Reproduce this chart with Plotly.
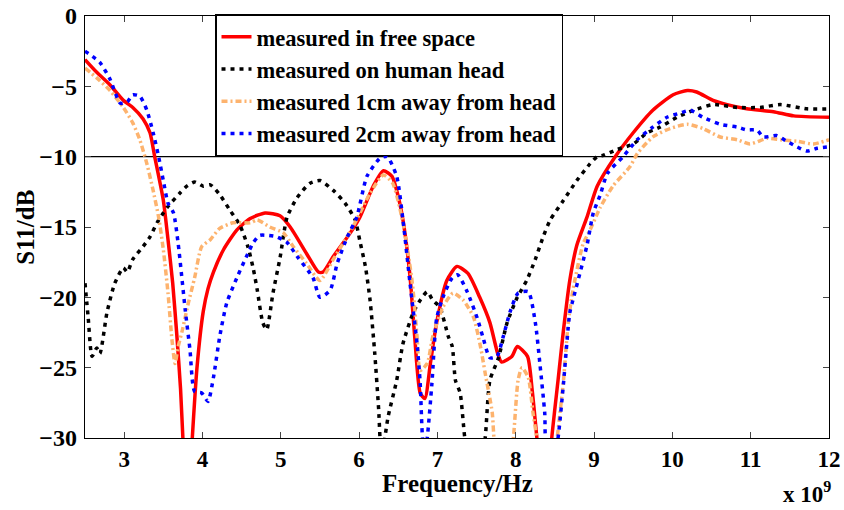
import plotly.graph_objects as go

# Frequencies in GHz, return loss in dB
free_f = [2.50, 2.65, 2.82, 2.99, 3.11, 3.24, 3.33, 3.39, 3.50, 3.56, 3.62, 3.67, 3.72, 3.75,
          3.79, 3.84, 3.87, 3.93, 4.01, 4.07, 4.14, 4.27, 4.44, 4.61, 4.80, 4.99, 5.12, 5.33,
          5.48, 5.54, 5.67, 5.89, 6.01, 6.18, 6.31, 6.42, 6.48, 6.56, 6.65, 6.71, 6.78, 6.84,
          6.91, 6.99, 7.12, 7.25, 7.39, 7.54, 7.67, 7.77, 7.82, 7.95, 8.02, 8.15, 8.21, 8.27,
          8.32, 8.42, 8.46, 8.54, 8.61, 8.69, 8.78, 8.91, 9.04, 9.27, 9.50, 9.75, 10.01, 10.19,
          10.31, 10.52, 10.70, 10.95, 11.29, 11.55, 12.00]
free_db = [-3.1, -4.0, -4.9, -6.0, -6.5, -7.3, -8.3, -10.0, -13.1, -15.9, -19.0, -22.5, -26.5, -30.0,
           -33.5, -33.0, -30.0, -25.0, -21.0, -19.4, -18.2, -16.6, -15.2, -14.4, -14.0, -14.2, -15.0, -16.9,
           -18.2, -18.2, -17.1, -15.4, -14.3, -12.1, -11.0, -11.4, -12.4, -14.5, -18.5, -22.8, -26.8, -27.2,
           -24.7, -21.8, -18.8, -17.8, -18.3, -20.0, -21.8, -24.0, -24.6, -24.2, -23.5, -24.2, -26.6, -30.0,
           -33.0, -33.0, -30.0, -25.9, -22.3, -18.8, -16.3, -14.3, -12.1, -10.0, -8.3, -6.7, -5.6, -5.3,
           -5.4, -6.0, -6.3, -6.6, -6.8, -7.1, -7.2]

head_f = [2.50, 2.54, 2.59, 2.65, 2.69, 2.78, 2.88, 2.99, 3.04, 3.11, 3.24, 3.33, 3.42, 3.50, 3.55,
          3.71, 3.80, 3.90, 4.01, 4.10, 4.22, 4.35, 4.48, 4.58, 4.65, 4.70, 4.77, 4.82, 4.90, 4.99,
          5.08, 5.21, 5.37, 5.50, 5.67, 5.82, 5.95, 6.01, 6.08, 6.14, 6.20, 6.25, 6.28, 6.31, 6.33,
          6.37, 6.48, 6.56, 6.69, 6.78, 6.87, 6.94, 7.03, 7.14, 7.19, 7.23, 7.29, 7.35, 7.42, 7.55,
          7.61, 7.67, 7.78, 7.89, 8.02, 8.14, 8.25, 8.35, 8.44, 8.61, 8.78, 8.95, 9.04, 9.12, 9.29,
          9.50, 9.68, 9.84, 10.06, 10.27, 10.52, 10.83, 11.12, 11.38, 11.72, 12.00]
head_db = [-19.0, -21.4, -24.2, -23.6, -24.0, -21.1, -19.0, -17.9, -18.2, -17.3, -16.4, -15.7, -14.7, -14.0, -13.6,
           -12.6, -12.1, -11.8, -12.1, -12.0, -12.7, -13.8, -14.9, -16.4, -18.0, -19.5, -21.8, -22.3, -19.7, -17.2,
           -14.3, -12.9, -11.9, -11.7, -12.4, -13.3, -14.5, -16.0, -17.8, -20.2, -24.0, -28.0, -31.0, -31.5, -30.0,
           -28.5, -25.9, -23.3, -21.1, -20.2, -19.6, -20.2, -20.7, -22.8, -23.5, -25.9, -26.8, -30.0, -32.0, -32.0,
           -30.0, -25.9, -24.3, -21.8, -20.0, -18.8, -17.3, -15.7, -14.5, -13.1, -11.7, -10.5, -10.0, -9.9, -9.5,
           -9.1, -8.3, -7.9, -7.2, -6.7, -6.3, -6.5, -6.5, -6.3, -6.6, -6.6]

cm1_f = [2.50, 2.65, 2.82, 2.99, 3.11, 3.20, 3.29, 3.37, 3.44, 3.50, 3.56, 3.61, 3.65, 3.69, 3.74,
         3.82, 3.90, 3.99, 4.10, 4.22, 4.39, 4.61, 4.70, 4.86, 5.03, 5.16, 5.33, 5.50, 5.67, 5.92,
         6.14, 6.31, 6.43, 6.56, 6.68, 6.74, 6.78, 6.87, 6.94, 7.07, 7.20, 7.33, 7.46, 7.55, 7.61,
         7.70, 7.73, 7.80, 7.92, 7.97, 8.03, 8.08, 8.16, 8.22, 8.27, 8.35, 8.48, 8.53, 8.61, 8.67,
         8.73, 8.86, 8.95, 9.08, 9.24, 9.46, 9.55, 9.75, 9.97, 10.19, 10.39, 10.61, 10.83, 10.99, 11.21,
         11.38, 11.59, 11.80, 12.00]
cm1_db = [-3.7, -4.4, -5.3, -6.5, -7.6, -8.8, -10.5, -12.4, -14.3, -16.6, -19.7, -23.0, -24.7, -23.5, -22.4,
          -20.4, -18.6, -16.4, -15.9, -15.1, -14.7, -14.7, -14.5, -15.0, -15.4, -16.4, -17.6, -18.8, -17.3, -15.0,
          -12.6, -11.3, -11.9, -14.7, -19.0, -22.8, -25.2, -24.7, -22.8, -20.7, -19.7, -20.2, -21.4, -23.5, -25.4,
          -28.2, -30.5, -32.0, -32.0, -30.0, -25.9, -25.0, -25.7, -28.2, -30.0, -33.0, -33.0, -30.0, -25.9, -21.8,
          -19.5, -16.2, -15.2, -13.6, -12.1, -10.7, -9.8, -8.6, -8.0, -7.7, -8.0, -8.6, -8.8, -9.1, -8.7,
          -8.8, -8.9, -9.1, -8.8]

cm2_f = [2.50, 2.69, 2.82, 2.95, 3.04, 3.11, 3.20, 3.29, 3.37, 3.44, 3.50, 3.56, 3.63, 3.69, 3.78,
         3.84, 3.90, 3.99, 4.07, 4.14, 4.22, 4.31, 4.44, 4.57, 4.65, 4.73, 4.84, 4.95, 5.08, 5.21,
         5.41, 5.50, 5.63, 5.72, 5.85, 5.97, 6.10, 6.27, 6.36, 6.48, 6.56, 6.65, 6.74, 6.78, 6.81,
         6.84, 6.87, 6.93, 6.99, 7.07, 7.19, 7.26, 7.38, 7.51, 7.58, 7.67, 7.76, 7.84, 7.93, 8.03,
         8.16, 8.25, 8.31, 8.37, 8.40, 8.50, 8.54, 8.61, 8.69, 8.73, 8.91, 8.99, 9.08, 9.17, 9.37,
         9.55, 9.75, 9.93, 10.10, 10.23, 10.39, 10.61, 10.83, 10.95, 11.08, 11.16, 11.33, 11.46, 11.59,
         11.72, 11.85, 12.00]
cm2_db = [-2.5, -3.3, -4.5, -6.2, -6.1, -5.6, -5.7, -6.7, -8.3, -10.0, -11.7, -13.3, -14.0, -16.2, -20.9,
          -23.7, -26.7, -26.8, -27.4, -25.7, -22.8, -20.4, -18.6, -17.0, -16.1, -15.6, -15.6, -15.7, -16.1, -17.1,
          -18.6, -20.0, -19.5, -17.6, -15.7, -14.3, -11.4, -10.1, -10.0, -11.4, -14.5, -19.0, -23.3, -26.1, -30.0,
          -31.0, -30.0, -26.1, -21.5, -20.0, -18.6, -18.4, -19.6, -21.5, -22.8, -24.3, -24.2, -22.8, -21.0, -19.7,
          -19.6, -21.8, -24.8, -28.2, -31.0, -31.0, -30.0, -26.1, -21.1, -20.2, -16.3, -14.0, -12.7, -11.2, -10.0,
          -8.8, -7.9, -7.2, -6.9, -6.7, -7.2, -7.7, -7.9, -8.1, -8.1, -8.6, -8.5, -8.9, -9.3,
          -9.6, -9.4, -9.3]

series_names = ["measured in free space", "measured on human head",
                "measured 1cm away from head", "measured 2cm away from head"]
x_ticks_ghz = [3, 4, 5, 6, 7, 8, 9, 10, 11, 12]
x_tick_labels = ["3", "4", "5", "6", "7", "8", "9", "10", "11", "12"]
y_ticks = [-30, -25, -20, -15, -10, -5, 0]
threshold_db = -10

FONT = "Liberation Serif"
GHZ = 1e9

fig = go.Figure()

styles = [
    dict(color="#FF0000", width=3.5, dash="solid"),
    dict(color="#000000", width=3.5, dash="4px,5px"),
    dict(color="#FDB36E", width=3.5, dash="6px,3px,2px,3px"),
    dict(color="#0000FF", width=3.5, dash="4px,5px"),
]
data = [(free_f, free_db), (head_f, head_db), (cm1_f, cm1_db), (cm2_f, cm2_db)]

for (f, db), name, st in zip(data, series_names, styles):
    fig.add_trace(go.Scatter(
        x=[v * GHZ for v in f], y=db, mode="lines", name=name,
        line=dict(color=st["color"], width=st["width"], dash=st["dash"],
                  shape="spline", smoothing=0.6),
    ))

# -10 dB reference line across the plot
fig.add_shape(type="line", xref="paper", x0=0, x1=1, yref="y", y0=threshold_db, y1=threshold_db,
              line=dict(color="black", width=1.3), layer="below")

tick_font = dict(family=FONT, size=23, color="black", weight="bold")
axis_common = dict(
    showline=True, linecolor="black", linewidth=1.3, mirror="ticks",
    ticks="inside", ticklen=6, tickcolor="#444", tickwidth=1,
    showgrid=False, zeroline=False, automargin=False,
    tickfont=tick_font,
)

fig.update_layout(
    width=844, height=510,
    margin=dict(l=85, r=15, t=16, b=72),
    paper_bgcolor="white", plot_bgcolor="white",
    font=dict(family=FONT, color="black", weight="bold"),
    xaxis=dict(range=[2.5 * GHZ, 12 * GHZ], tickvals=[v * GHZ for v in x_ticks_ghz],
               ticktext=x_tick_labels, ticklabelstandoff=0, **axis_common),
    yaxis=dict(range=[-30, 0], tickvals=y_ticks, ticklabelstandoff=2,
               **{**axis_common, "tickfont": dict(tick_font, size=24)}),
    legend=dict(x=0.175, y=1.004, xanchor="left", yanchor="top",
                bgcolor="white", bordercolor="black", borderwidth=1.3,
                font=dict(family=FONT, size=22.5, color="black", weight="bold"),
                itemwidth=30, tracegroupgap=0),
    showlegend=True,
)

title_font = dict(family=FONT, size=25, color="black", weight="bold")
fig.add_annotation(text="Frequency/Hz", xref="paper", yref="paper", x=0.5, y=-0.108,
                   xanchor="center", yanchor="middle", showarrow=False, font=title_font)
fig.add_annotation(text="S11/dB", xref="paper", yref="paper", x=-0.081, y=0.5, textangle=-90,
                   xanchor="center", yanchor="middle", showarrow=False, font=title_font)
fig.add_annotation(text="x 10<sup>9</sup>", xref="paper", yref="paper", x=1.006, y=-0.13,
                   xanchor="right", yanchor="middle", showarrow=False,
                   font=dict(family=FONT, size=23, color="black", weight="bold"))

fig.write_html("out.html")
